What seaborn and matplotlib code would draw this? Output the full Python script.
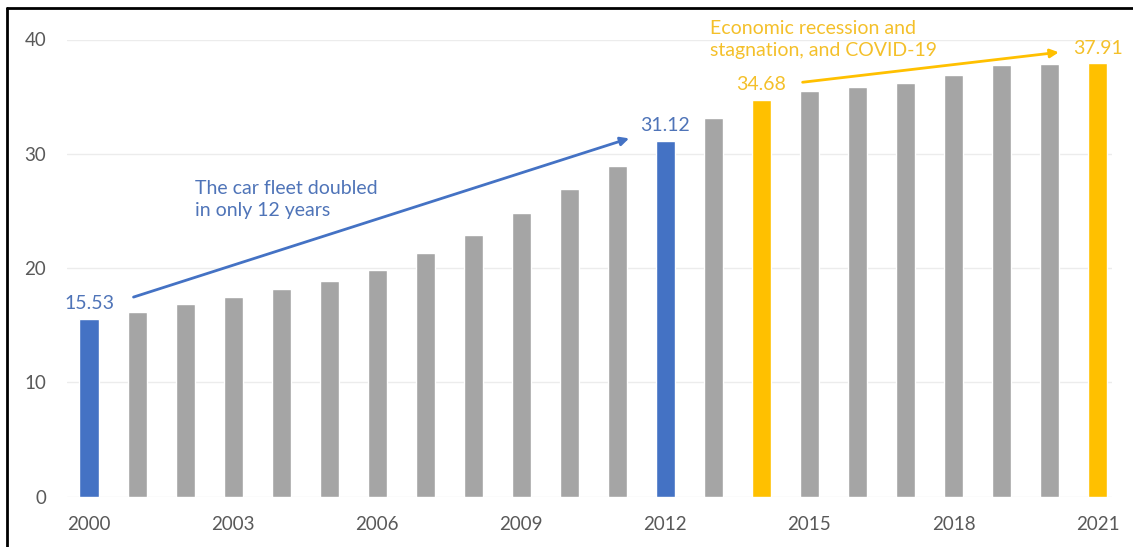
import matplotlib
matplotlib.use("Agg")
import matplotlib.pyplot as plt
import seaborn as sns
import pandas as pd
from matplotlib.patches import FancyArrowPatch

years = [str(y) for y in range(2000, 2022)]
fleet = [15.53, 16.15, 16.85, 17.45, 18.15, 18.9, 19.85, 21.3, 22.9, 24.8,
         26.9, 28.9, 31.12, 33.1, 34.68, 35.5, 35.8, 36.2, 36.9, 37.75, 37.85, 37.91]
blue_years = ["2000", "2012"]
yellow_years = ["2014", "2021"]
tick_years = ["2000", "2003", "2006", "2009", "2012", "2015", "2018", "2021"]
blue_note = "The car fleet doubled\nin only 12 years"
yellow_note = "Economic recession and\nstagnation, and COVID-19"

GRAY, BLUE, YELLOW = "#A5A5A5", "#4472C4", "#FFC000"
BLUE_TXT, YELLOW_TXT = "#4F74B8", "#F4C02A"
TICK = "#595959"

sns.set_theme(style="white")
plt.rcParams["font.family"] = ["Lato", "DejaVu Sans"]

df = pd.DataFrame({"year": years, "fleet": fleet})
palette = {y: (BLUE if y in blue_years else YELLOW if y in yellow_years else GRAY) for y in years}

fig = plt.figure(figsize=(11.33, 5.47), dpi=100)
ax = fig.add_axes([67 / 1133, 50.5 / 547, 1045 / 1133, 457 / 547])
sns.barplot(data=df, x="year", y="fleet", hue="year", palette=palette, legend=False,
            width=0.4, ax=ax, saturation=1)

ax.set_ylim(0, 40)
ax.set_xlim(-0.46, 21.3)
ax.set_yticks([0, 10, 20, 30, 40])
ax.yaxis.grid(True, color="#ECECEC", linewidth=1)
ax.set_axisbelow(True)
for s in ax.spines.values():
    s.set_visible(False)
ax.set_xlabel("")
ax.set_ylabel("")
ax.set_xticks([years.index(t) for t in tick_years])
ax.set_xticklabels(tick_years)
ax.tick_params(axis="x", length=0, pad=14, labelsize=13.5, labelcolor=TICK)
ax.tick_params(axis="y", length=0, pad=15, labelsize=13.5, labelcolor=TICK)

# value labels
for y in blue_years + yellow_years:
    i = years.index(y)
    col = BLUE_TXT if y in blue_years else YELLOW_TXT
    ax.text(i, fleet[i] + 0.6, f"{fleet[i]:.2f}", ha="center", va="bottom",
            fontsize=14, color=col, clip_on=False)

# arrows
i0, i1 = years.index(blue_years[0]), years.index(blue_years[1])
ax.add_patch(FancyArrowPatch((i0 + 0.87, fleet[i0] + 1.85), (i1 - 0.7, fleet[i1] + 0.3),
                             arrowstyle="-|>,head_length=5,head_width=2.5", color=BLUE,
                             linewidth=2, mutation_scale=1, clip_on=False))
j0, j1 = years.index(yellow_years[0]), years.index(yellow_years[1])
ax.add_patch(FancyArrowPatch((j0 + 0.8, fleet[j0] + 1.55), (j1 - 0.75, fleet[j1] + 1.0),
                             arrowstyle="-|>,head_length=5,head_width=2.5", color=YELLOW,
                             linewidth=2, mutation_scale=1, clip_on=False))

ax.text(2.2, 26.0, blue_note, ha="left", va="center", fontsize=14,
        color=BLUE_TXT, linespacing=1.35)
ax.text(12.92, 40.0, yellow_note, ha="left", va="center", fontsize=14,
        color=YELLOW_TXT, linespacing=1.35, clip_on=False)

# cropped frame (left and top edges)
fig.add_artist(plt.Line2D([7 / 1133, 7 / 1133], [0, 1 - 8 / 547], transform=fig.transFigure,
                          color="black", linewidth=2))
fig.add_artist(plt.Line2D([7 / 1133, 1], [1 - 8 / 547, 1 - 8 / 547], transform=fig.transFigure,
                          color="black", linewidth=2))

fig.savefig("out.png", dpi=100)
